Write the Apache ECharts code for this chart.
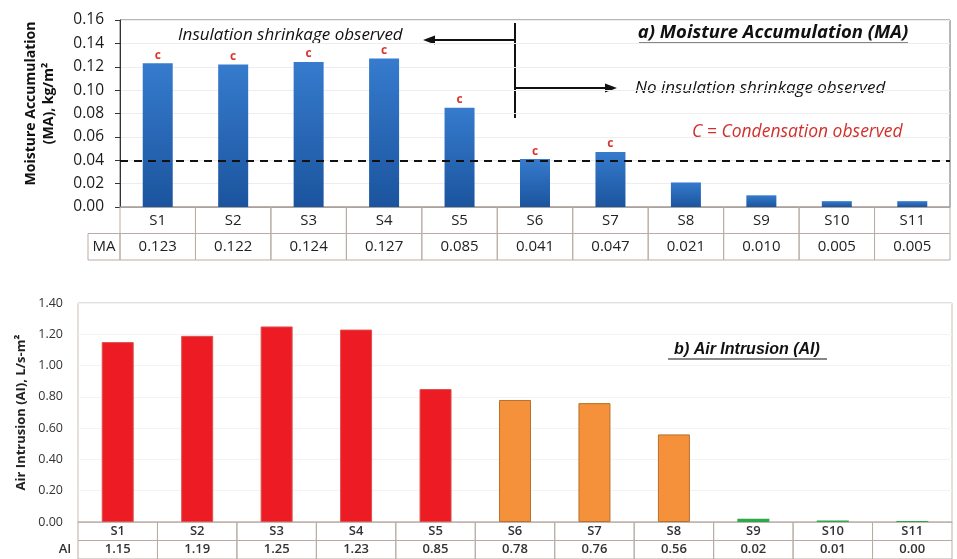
<!DOCTYPE html>
<html>
<head>
<meta charset="utf-8">
<script src="https://cdn.jsdelivr.net/npm/echarts@6/dist/echarts.min.js"></script>
<style>
  html, body { margin: 0; padding: 0; background: #fff; }
  #chart { width: 957px; height: 559px; }
</style>
</head>
<body>
<div id="chart"></div>
<script>
// Specimens S1..S11
const categories = ['S1', 'S2', 'S3', 'S4', 'S5', 'S6', 'S7', 'S8', 'S9', 'S10', 'S11'];

// a) Moisture accumulation, kg/m2
const maValues = [0.123, 0.122, 0.124, 0.127, 0.085, 0.041, 0.047, 0.021, 0.010, 0.005, 0.005];
// specimens where condensation was observed
const maCondensation = [true, true, true, true, true, true, true, false, false, false, false];
const maThreshold = 0.04;
const maAxis = { min: 0, max: 0.16, interval: 0.02 };

// b) Air intrusion, L/s-m2
const aiValues = [1.15, 1.19, 1.25, 1.23, 0.85, 0.78, 0.76, 0.56, 0.02, 0.01, 0.00];
const aiLevel = ['high', 'high', 'high', 'high', 'high', 'mid', 'mid', 'mid', 'low', 'low', 'low'];
const aiAxis = { min: 0, max: 1.4, interval: 0.2 };

const levelColors = {
  high: { fill: '#ed1c24', edge: '#d9534f' },
  mid:  { fill: '#f4913a', edge: '#b8702e' },
  low:  { fill: '#2ea84a', edge: '#2ea84a' }
};

const FONT = '"Open Sans", sans-serif';
const tableBorder = '#b9aca6';

// Two-row data table under a category axis, drawn cell by cell
function tableSeries(axisIndex, values, header, opts) {
  return {
    type: 'custom',
    xAxisIndex: axisIndex,
    yAxisIndex: axisIndex,
    silent: true,
    data: categories.map((c, i) => [i]),
    renderItem(params, api) {
      const i = api.value(0);
      const band = api.size([1, 0])[0];
      const cx = api.coord([i, 0])[0];
      const top = params.coordSys.y;
      const rowH = params.coordSys.height / 2;
      const x0 = cx - band / 2;
      const cellStyle = { fill: 'none', stroke: tableBorder, lineWidth: 1 };
      const children = [
        { type: 'rect', shape: { x: x0, y: top, width: band, height: rowH }, style: cellStyle },
        { type: 'rect', shape: { x: x0, y: top + rowH, width: band, height: rowH }, style: cellStyle },
        { type: 'text', style: { text: categories[i], x: cx, y: top + rowH / 2, align: 'center', verticalAlign: 'middle', font: opts.font, fill: opts.color } },
        { type: 'text', style: { text: values[i], x: cx, y: top + rowH * 1.5, align: 'center', verticalAlign: 'middle', font: opts.font, fill: opts.color } }
      ];
      if (i === 0) {
        if (opts.headerBox) {
          children.push({ type: 'rect', shape: { x: x0 - opts.headerWidth, y: top + rowH, width: opts.headerWidth, height: rowH }, style: cellStyle });
        }
        children.push({ type: 'text', style: { text: header, x: x0 - opts.headerWidth / 2, y: top + rowH * 1.5, align: 'center', verticalAlign: 'middle', font: opts.font, fill: opts.color } });
      }
      return { type: 'group', children };
    }
  };
}

const chart = echarts.init(document.getElementById('chart'), null, { renderer: 'canvas' });

const option = {
  animation: false,
  backgroundColor: '#ffffff',
  grid: [
    { left: 120, right: 7, top: 20, height: 187, show: true, borderColor: '#6e6e6e', borderWidth: 1 },
    { left: 120, right: 7, top: 207, height: 53 },
    { left: 78, right: 5, top: 303, height: 219, show: true, borderColor: '#cbbfb9', borderWidth: 1 },
    { left: 78, right: 5, top: 522, height: 42 }
  ],
  xAxis: [
    { gridIndex: 0, type: 'category', data: categories, axisLine: { lineStyle: { color: '#9a9a9a' } }, axisTick: { show: false }, axisLabel: { show: false } },
    { gridIndex: 1, type: 'category', data: categories, show: false },
    { gridIndex: 2, type: 'category', data: categories, axisLine: { lineStyle: { color: '#cbbfb9' } }, axisTick: { show: false }, axisLabel: { show: false } },
    { gridIndex: 3, type: 'category', data: categories, show: false }
  ],
  yAxis: [
    {
      gridIndex: 0, type: 'value', min: maAxis.min, max: maAxis.max, interval: maAxis.interval,
      name: 'Moisture Accumulation\n(MA), kg/m²', nameLocation: 'middle', nameRotate: 90, nameGap: 62,
      nameTextStyle: { fontFamily: FONT, fontWeight: 'bold', fontSize: 14, color: '#111', lineHeight: 18, padding: [0, 0, 0, 20] },
      axisLine: { show: true, lineStyle: { color: '#333', width: 1 } },
      axisTick: { show: true, length: 5, lineStyle: { color: '#333' } },
      axisLabel: { formatter: v => v.toFixed(2), fontFamily: FONT, fontSize: 15.5, color: '#1a1a1a', margin: 16 },
      splitLine: { lineStyle: { color: '#ededed' } }
    },
    { gridIndex: 1, type: 'value', min: 0, max: 2, inverse: true, show: false },
    {
      gridIndex: 2, type: 'value', min: aiAxis.min, max: aiAxis.max, interval: aiAxis.interval,
      name: 'Air Intrusion (AI), L/s-m²', nameLocation: 'middle', nameRotate: 90, nameGap: 40,
      nameTextStyle: { fontFamily: FONT, fontWeight: 'bold', fontSize: 13, color: '#222' },
      axisLine: { show: false },
      axisTick: { show: false },
      axisLabel: { formatter: v => v.toFixed(2), fontFamily: FONT, fontSize: 12.5, color: '#333', margin: 15 },
      splitLine: { lineStyle: { color: '#f3f3f3' } }
    },
    { gridIndex: 3, type: 'value', min: 0, max: 2, inverse: true, show: false }
  ],
  series: [
    {
      type: 'bar', xAxisIndex: 0, yAxisIndex: 0, barWidth: 30,
      data: maValues,
      itemStyle: {
        color: new echarts.graphic.LinearGradient(0, 0, 0, 1, [
          { offset: 0, color: '#367bcd' },
          { offset: 1, color: '#1b549e' }
        ])
      },
      label: {
        show: true, position: 'top', distance: 2,
        formatter: p => (maCondensation[p.dataIndex] ? 'c' : ''),
        color: '#d8352c', fontFamily: FONT, fontWeight: 'bold', fontSize: 12
      },
      markLine: {
        silent: true, symbol: 'none', label: { show: false },
        lineStyle: { color: '#111', type: [8, 6], width: 2 },
        data: [{ yAxis: maThreshold }]
      }
    },
    tableSeries(1, maValues.map(v => v.toFixed(3)), 'MA', { font: '15px ' + FONT, color: '#222', headerWidth: 32, headerBox: true }),
    {
      type: 'bar', xAxisIndex: 2, yAxisIndex: 2, barWidth: 32, barMinHeight: 1,
      data: aiValues.map((v, i) => ({
        value: v,
        itemStyle: { color: levelColors[aiLevel[i]].fill, borderColor: levelColors[aiLevel[i]].edge, borderWidth: aiLevel[i] === 'low' ? 0 : 1 }
      }))
    },
    tableSeries(3, aiValues.map(v => v.toFixed(2)), 'AI', { font: '600 13px ' + FONT, color: '#333', headerWidth: 26, headerBox: false })
  ],
  graphic: [
    // annotations of panel a)
    { type: 'text', style: { text: 'Insulation shrinkage observed', x: 178, y: 35, verticalAlign: 'middle', font: 'italic 17px ' + FONT, fill: '#111' } },
    { type: 'text', style: { text: 'No insulation shrinkage observed', x: 635, y: 88, verticalAlign: 'middle', font: 'italic 17px ' + FONT, fill: '#111' } },
    { type: 'text', style: { text: 'C = Condensation observed', x: 692, y: 132, verticalAlign: 'middle', font: 'italic 17.5px ' + FONT, fill: '#d0302b' } },
    { type: 'line', shape: { x1: 515, y1: 23, x2: 515, y2: 118 }, style: { stroke: '#111', lineWidth: 2 } },
    { type: 'line', shape: { x1: 515, y1: 40, x2: 432, y2: 40 }, style: { stroke: '#111', lineWidth: 2 } },
    { type: 'polygon', shape: { points: [[423, 40], [435, 35.5], [435, 44.5]] }, style: { fill: '#111' } },
    { type: 'line', shape: { x1: 515, y1: 88, x2: 608, y2: 88 }, style: { stroke: '#111', lineWidth: 2 } },
    { type: 'polygon', shape: { points: [[617, 88], [605, 83.5], [605, 92.5]] }, style: { fill: '#111' } },
    { type: 'text', style: { text: 'a) Moisture Accumulation (MA)', x: 773, y: 33, align: 'center', verticalAlign: 'middle', font: 'italic bold 18.5px ' + FONT, fill: '#111' } },
    { type: 'line', shape: { x1: 639, y1: 43, x2: 908, y2: 43 }, style: { stroke: '#111', lineWidth: 1.2 } },
    // panel b) title
    { type: 'text', style: { text: 'b) Air Intrusion (AI)', x: 747, y: 350, align: 'center', verticalAlign: 'middle', font: 'italic bold 16px "Liberation Sans", Arial, sans-serif', fill: '#111' } },
    { type: 'line', shape: { x1: 668, y1: 359, x2: 827, y2: 359 }, style: { stroke: '#111', lineWidth: 1.2 } }
  ]
};

chart.setOption(option);
</script>
</body>
</html>
